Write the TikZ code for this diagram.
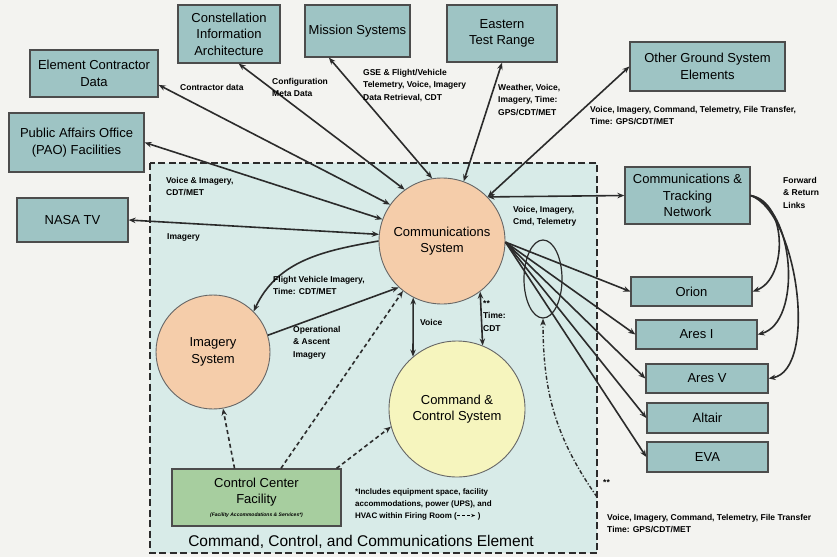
\documentclass[tikz,border=0pt]{standalone}
\usepackage{fontspec}
\setmainfont{Liberation Sans}
\usetikzlibrary{arrows.meta,calc,positioning,shapes.geometric}
\definecolor{pagebg}{HTML}{F3F3F0}
\definecolor{elemfill}{HTML}{D8EBE8}
\definecolor{boxteal}{HTML}{9EC4C4}
\definecolor{peach}{HTML}{F5CDAA}
\definecolor{paleyellow}{HTML}{F6F5BE}
\definecolor{ccfgreen}{HTML}{A7CE9F}
\definecolor{edge}{HTML}{2B2B2B}
\tikzset{
  extbox/.style={draw=black!70,fill=boxteal,line width=1.3pt,align=center,inner sep=2pt,font=\fontsize{13}{16.5}\selectfont},
  sysnode/.style={circle,draw=black!60,line width=0.9pt,align=center,inner sep=0pt,font=\fontsize{13}{16.5}\selectfont},
  flowlbl/.style={font=\fontsize{8.5}{12.5}\selectfont\bfseries,align=left,inner sep=0pt,anchor=north west},
  link/.style={draw=edge,line width=1.6pt},
  ctrl/.style={link,dash pattern=on 4pt off 3pt}
}
\begin{document}
\begin{tikzpicture}[x=1pt,y=-1pt,>={Stealth[length=7pt,width=5.5pt]}]
  \fill[pagebg] (0,0) rectangle (837,557);
  \useasboundingbox (0,0) rectangle (837,557);
  \draw[fill=elemfill,draw=edge,line width=2.2pt,dash pattern=on 7pt off 3.5pt] (150,163) rectangle (597,553);
  \node[extbox,minimum width=102,minimum height=58] (cia) at (229,34) {Constellation\\Information\\Architecture};
  \node[extbox,minimum width=105,minimum height=52] (mis) at (357.5,31) {Mission Systems};
  \node[extbox,minimum width=110,minimum height=57] (etr) at (502,33.5) {Eastern\\Test Range};
  \node[extbox,minimum width=128,minimum height=47] (ecd) at (94,73.5) {Element Contractor\\Data};
  \node[extbox,minimum width=135,minimum height=59] (pao) at (76.5,142.5) {Public Affairs Office\\(PAO) Facilities};
  \node[extbox,minimum width=111,minimum height=44] (tv) at (72.5,220) {NASA TV};
  \node[extbox,minimum width=155,minimum height=49] (ogse) at (707.5,66.5) {Other Ground System\\Elements};
  \node[extbox,minimum width=125,minimum height=57] (ctn) at (687.5,195.5) {Communications \&\\Tracking\\Network};
  \node[extbox,minimum width=121,minimum height=29] (orion) at (691.5,291.5) {Orion};
  \node[extbox,minimum width=121,minimum height=29] (ares1) at (696.5,334.5) {Ares I};
  \node[extbox,minimum width=122,minimum height=29] (ares5) at (707,378.5) {Ares V};
  \node[extbox,minimum width=121,minimum height=30] (altair) at (707.5,418) {Altair};
  \node[extbox,minimum width=121,minimum height=30] (eva) at (707.5,457) {EVA};
  \node[sysnode,fill=peach,minimum size=126] (comm) at (442,241) {Communications\\System};
  \node[sysnode,fill=peach,minimum size=114] (img) at (213,352) {Imagery\\System};
  \node[sysnode,fill=paleyellow,minimum size=136] (cc) at (457,409) {Command \&\\Control System};
  \node[extbox,fill=ccfgreen,minimum width=169,minimum height=57] (ccf) at (256.5,497.5) {Control Center\\Facility\\[-4pt]{\fontsize{5}{6}\selectfont\bfseries\itshape (Facility Accommodations \& Services*)}};
  \node[ellipse,draw=edge,line width=1.2pt,minimum width=38,minimum height=78,inner sep=0pt] (grp) at (543,279) {};
  \coordinate (star) at (597,497);
  \draw[link,<->] (ecd.-10) -- (comm.145);
  \draw[link,<->] (pao.east) -- (comm.160);
  \draw[link,<->] (tv.east) -- (comm.174);
  \draw[link,<->] (cia.-72) -- (comm.126);
  \draw[link,<->] (mis.-137) -- (comm.99);
  \draw[link,<->] (etr.south) -- (comm.70);
  \draw[link,<->] (comm.44) -- (ogse.west);
  \draw[link,<->] (comm.44) -- (ctn.west);
  \draw[link,->] (comm.-1) -- (orion.west);
  \draw[link,->] (comm.-1) -- (ares1.west);
  \draw[link,->] (comm.-1) -- (ares5.west);
  \draw[link,->] (comm.-1) -- (altair.west);
  \draw[link,->] (comm.-1) -- (eva.west);
  \draw[link,->] (ctn.east) to[out=-10,in=20] (orion.east);
  \draw[link,->] (ctn.east) to[out=-15,in=15,looseness=0.85] (ares1.east);
  \draw[link,->] (ctn.east) to[out=-20,in=10,looseness=0.7] (ares5.east);
  \draw[link,->] (comm.180) to[out=190,in=65] (img.45);
  \draw[link,->] (img.17) -- (comm.227);
  \draw[link,<->] (comm.243) -- (cc.130);
  \draw[link,<->] (comm.-53) -- (cc.68);
  \draw[ctrl,->] (ccf.127) -- (img.-80);
  \draw[ctrl,->] (ccf.50) -- (comm.232);
  \draw[ctrl,->] (ccf.20) -- (cc.195);
  \draw[link,line width=1.4pt,dash pattern=on 4pt off 2pt on 1.2pt off 2pt,->] (star) to[out=125,in=-90] (grp.south);
  \node[flowlbl] (lcon) at (180,84) {Contractor data};
  \node[flowlbl] (lcfg) at (272,78) {Configuration\\Meta Data};
  \node[flowlbl] (lgse) at (363,69) {GSE \& Flight/Vehicle\\Telemetry, Voice, Imagery\\Data Retrieval, CDT};
  \node[flowlbl] (lwx) at (498,84) {Weather, Voice,\\Imagery, Time:\\GPS/CDT/MET};
  \node[flowlbl] (logs) at (590,106) {Voice, Imagery, Command, Telemetry, File Transfer,\\Time: GPS/CDT/MET};
  \node[flowlbl] (lpao) at (166,177) {Voice \& Imagery,\\CDT/MET};
  \node[flowlbl] (ltv) at (167,233) {Imagery};
  \node[flowlbl] (lctn) at (513,206) {Voice, Imagery,\\Cmd, Telemetry};
  \node[flowlbl] (lfr) at (783,177) {Forward\\\& Return\\Links};
  \node[flowlbl] (lfv) at (273,276) {Flight Vehicle Imagery,\\Time: CDT/MET};
  \node[flowlbl] (lops) at (293,326) {Operational\\\& Ascent\\Imagery};
  \node[flowlbl] (lvoice) at (420,319) {Voice};
  \node[flowlbl] (ltime) at (483,300) {**\\Time:\\CDT};
  \node[flowlbl] (lstar) at (603,479) {**};
  \node[flowlbl] (lbot) at (607,514) {Voice, Imagery, Command, Telemetry, File Transfer\\Time: GPS/CDT/MET};
  \node[flowlbl,font=\fontsize{8}{12}\selectfont\bfseries] (lnote) at (355,488) {*Includes equipment space, facility\\accommodations, power (UPS), and\\HVAC within Firing Room (\tikz[baseline=-2.5pt]\draw[line width=0.8pt,densely dashed,-{Stealth[length=4pt]}] (0pt,0pt) -- (18pt,0pt); )};
  \node[font=\fontsize{15.5}{18}\selectfont] (lelem) at (361,542) {Command, Control, and Communications Element};
\end{tikzpicture}
\end{document}
